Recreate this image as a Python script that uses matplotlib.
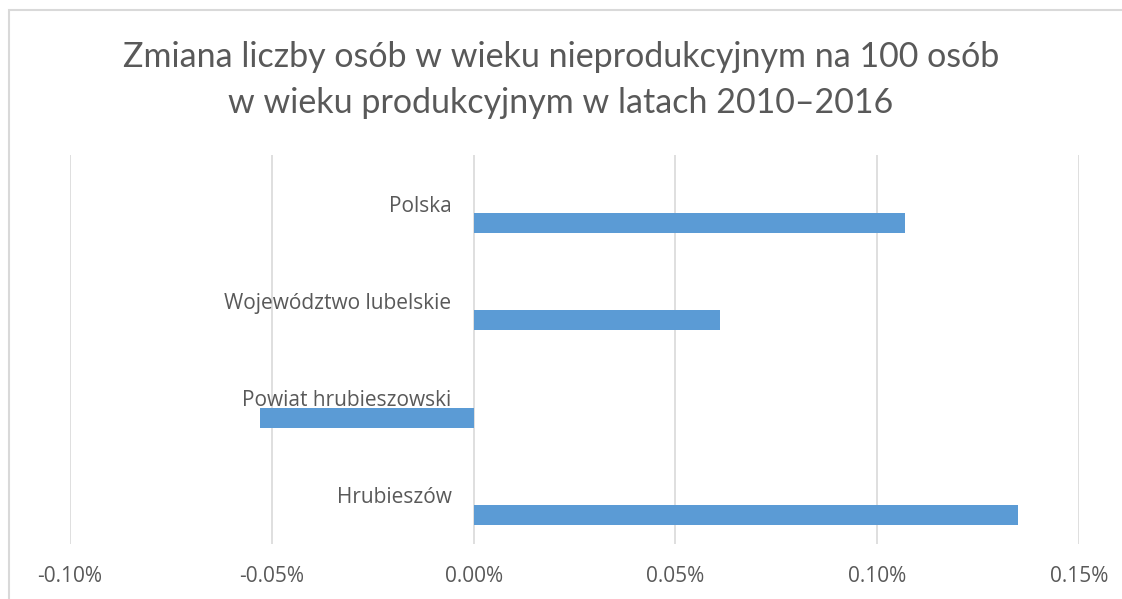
import matplotlib.pyplot as plt
from matplotlib.patches import Rectangle
from matplotlib.ticker import FuncFormatter
import numpy as np

# data
categories = ["Polska", "Województwo lubelskie", "Powiat hrubieszowski", "Hrubieszów"]
values = [0.107, 0.061, -0.053, 0.135]  # in %
title = "Zmiana liczby osób w wieku nieprodukcyjnym na 100 osób\nw wieku produkcyjnym w latach 2010–2016"

txt = "#595959"
plt.rcParams['font.family'] = ['Open Sans', 'DejaVu Sans']

fig = plt.figure(figsize=(11.22, 5.99), dpi=100)
W, H = 1122, 599
ax = fig.add_axes([70 / W, 1 - 544 / H, (1079 - 70) / W, (544 - 155) / H])

pos = np.arange(len(categories))
# bars sit in the lower half of each category slot
ax.barh(pos + 0.2, values, height=0.205, color="#5B9BD5", zorder=3)

ax.set_xlim(-0.10, 0.15)
ax.set_xticks(np.arange(-0.10, 0.151, 0.05))
ax.xaxis.set_major_formatter(FuncFormatter(lambda v, p: f"{v:.2f}%"))
ax.set_ylim(len(categories) - 0.5, -0.5)
ax.set_yticks(pos)
ax.set_yticklabels(categories)

ax.grid(axis="x", color="#D9D9D9", linewidth=1.2, zorder=0)
for s in ["top", "right", "bottom"]:
    ax.spines[s].set_visible(False)
ax.spines["left"].set_position(("data", 0))
ax.spines["left"].set_visible(False)

ax.tick_params(axis="y", length=0, pad=16, labelsize=15, labelcolor=txt)
ax.tick_params(axis="x", length=0, pad=16, labelsize=15, labelcolor=txt)

fig.text(0.5, 1 - 80 / H, title, ha="center", va="center", fontsize=24.5,
         color=txt, linespacing=1.55, family=["Lato", "DejaVu Sans"])

# chart border
fig.add_artist(Rectangle((8.5 / W, -0.1), 1.2, 1.1 - 10.5 / H, transform=fig.transFigure,
                         fill=False, edgecolor="#D9D9D9", linewidth=1.5))

fig.savefig("out.png", dpi=100)
